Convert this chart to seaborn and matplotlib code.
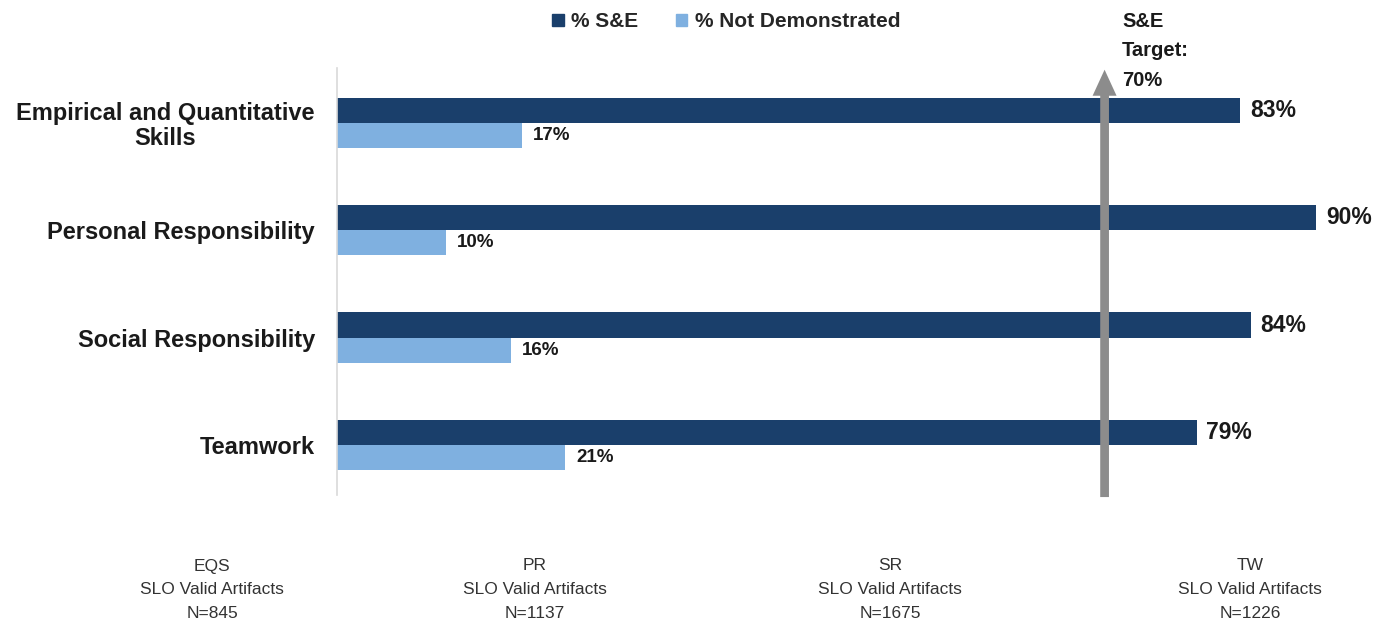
import matplotlib
matplotlib.use("Agg")
import matplotlib.pyplot as plt
import pandas as pd
import seaborn as sns
from matplotlib.patches import Patch

# values
categories = ["Empirical and Quantitative\nSkills", "Personal Responsibility",
              "Social Responsibility", "Teamwork"]
pct_se = [83, 90, 84, 79]
pct_not = [17, 10, 16, 21]
series = ["% S&E", "% Not Demonstrated"]
abbrevs = ["EQS", "PR", "SR", "TW"]
n_artifacts = [845, 1137, 1675, 1226]
target = 70

dark = "#1a3f6b"
light = "#7fb0e0"

df = pd.DataFrame({
    "category": categories * 2,
    "series": [series[0]] * 4 + [series[1]] * 4,
    "value": pct_se + pct_not,
})

sns.set_style("white")
plt.rcParams["font.family"] = ["Liberation Sans", "DejaVu Sans"]

fig = plt.figure(figsize=(13.78, 6.26), dpi=100)
ax = fig.add_axes([337 / 1378, 1 - 495 / 626, 1 - 337 / 1378, (495 - 68) / 626])

sns.barplot(data=df, y="category", x="value", hue="series", orient="h",
            palette=[dark, light], saturation=1, width=0.47, ax=ax,
            legend=False, edgecolor="none")

ax.set_xlim(0, 1041 / 10.88)
ax.set_ylim(3.465, -0.51)
ax.set_xlabel("")
ax.set_ylabel("")
ax.set_xticks([])
for s in ["top", "right", "bottom"]:
    ax.spines[s].set_visible(False)
ax.spines["left"].set_color("#d9d9d9")
ax.spines["left"].set_linewidth(1.2)
ax.tick_params(axis="y", length=0, pad=16)
for lab in ax.get_yticklabels():
    lab.set_fontsize(17)
    lab.set_fontweight("bold")
    lab.set_multialignment("center")
    lab.set_color("#1a1a1a")
    lab.set_linespacing(1.1)

c_se, c_not = ax.containers[0], ax.containers[1]
ax.bar_label(c_se, labels=[f"{v}%" for v in pct_se], padding=7,
             fontsize=16.5, fontweight="bold", color="#1a1a1a")
ax.bar_label(c_not, labels=[f"{v}%" for v in pct_not], padding=8,
             fontsize=13.5, fontweight="bold", color="#1a1a1a")

# target arrow
ax.annotate("", xy=(target + 0.55, -0.52), xytext=(target + 0.55, 3.51),
            arrowprops=dict(arrowstyle="simple,head_length=1.25,head_width=1.15,tail_width=0.42",
                            mutation_scale=15, color="#8c8c8c", lw=0),
            annotation_clip=False)
fig.text(1122 / 1378, 1 - 12 / 626, f"S&E\nTarget:\n{target}%", ha="left", va="top",
         fontsize=14.5, fontweight="bold", linespacing=1.7, color="#1a1a1a")

# legend
handles = [Patch(color=dark), Patch(color=light)]
fig.legend(handles, series, loc="upper center", bbox_to_anchor=(0.527, 1.01),
           ncol=2, frameon=False, handlelength=0.55, handleheight=0.55,
           handletextpad=0.35, columnspacing=1.8,
           prop={"weight": "bold", "size": 15})

# bottom notes
note_x = [212, 535, 890, 1250]
for x, ab, n in zip(note_x, abbrevs, n_artifacts):
    fig.text(x / 1378, 1 - 590 / 626, f"{ab}\nSLO Valid Artifacts\nN={n}",
             ha="center", va="center", fontsize=12.5, linespacing=1.75,
             color="#333333")

fig.savefig("out.png", dpi=100)
